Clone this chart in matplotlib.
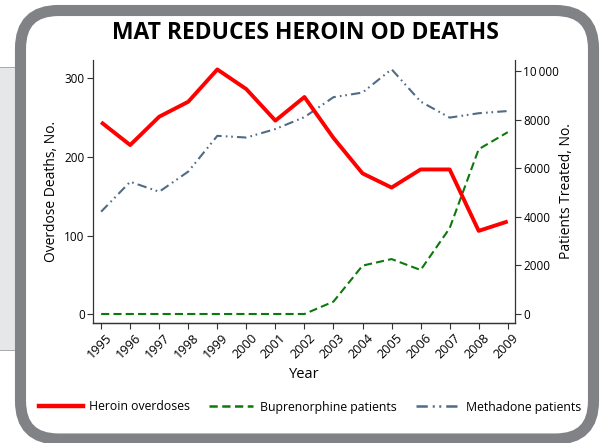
import matplotlib
matplotlib.use("Agg")
import matplotlib.pyplot as plt
from matplotlib.patches import FancyBboxPatch, Rectangle
from matplotlib.lines import Line2D
from matplotlib.ticker import FuncFormatter
from matplotlib.transforms import ScaledTranslation

plt.rcParams['font.family'] = ['Open Sans', 'DejaVu Sans']

# data
years = list(range(1995, 2010))
heroin_od = [244, 215, 251, 270, 311, 286, 246, 276, 224, 179, 161, 184, 184, 106, 118]
bupe_pts = [0, 0, 0, 0, 0, 0, 0, 0, 510, 1990, 2260, 1810, 3530, 6780, 7480]
methadone_pts = [4210, 5440, 5030, 5860, 7330, 7260, 7610, 8100, 8920, 9110,
                 10070, 8740, 8080, 8260, 8350]

left_ticks = [0, 100, 200, 300]
right_ticks = [0, 2000, 4000, 6000, 8000, 10000]

W, H = 602, 443
fig = plt.figure(figsize=(W / 100, H / 100), dpi=100)

# light gray panel sticking out on the left
fig.patches.append(Rectangle((0, H - 350), 22, 282, transform=None,
                             facecolor='#e6e7e8', edgecolor='none', zorder=-3))
fig.lines.append(Line2D([0, 22], [H - 68, H - 68], transform=None,
                        color='#9a9b9d', lw=1.2, zorder=-3))
fig.lines.append(Line2D([0, 22], [H - 350, H - 350], transform=None,
                        color='#9a9b9d', lw=1.2, zorder=-3))

# rounded gray frame
fig.patches.append(FancyBboxPatch((20.5, H - 439), 573, 428.5, transform=None,
                                  boxstyle='round,pad=0,rounding_size=38',
                                  facecolor='white', edgecolor='#808285',
                                  lw=8, zorder=-2))

ax = fig.add_axes([93 / W, 1 - 323 / H, 422 / W, 263 / H])
ax2 = ax.twinx()
ax.set_zorder(ax2.get_zorder() + 1)
ax.patch.set_visible(False)
ax2.patch.set_visible(False)

meth_dash = (4.5, 2, 0.8, 1.8, 0.8, 2)
ax.plot(years, heroin_od, color='#ff0000', lw=2.8, solid_capstyle='butt')
ax2.plot(years, bupe_pts, color='#0a7a0a', lw=1.5, dashes=(3.9, 2.0))
ax2.plot(years, methadone_pts, color='#4f6b86', lw=1.5, dashes=meth_dash)

ax.set_xlim(1994.72, 2009.25)
ax.set_ylim(-11, 323)
ax2.set_ylim(-370, 10450)
ax.set_yticks(left_ticks)
ax2.set_yticks(right_ticks)
ax.set_xticks(years)
ax.set_xticklabels([str(y) for y in years], rotation=45, ha='right',
                   rotation_mode='anchor')
ax2.yaxis.set_major_formatter(
    FuncFormatter(lambda v, p: '10\u2009000' if v >= 10000 else '%d' % v))

for a in (ax, ax2):
    a.spines['top'].set_visible(False)
    for s in a.spines.values():
        s.set_color('#333333')
        s.set_linewidth(0.9)
    a.tick_params(direction='out', length=4, width=0.8, color='#333333',
                  labelsize=8.5, pad=2)
ax2.spines['left'].set_visible(False)
ax.spines['right'].set_visible(False)
ax.tick_params(axis='x', labelsize=9.2, pad=2)
shift = ScaledTranslation(4 / 100, 0, fig.dpi_scale_trans)
for lbl in ax.get_xticklabels():
    lbl.set_transform(lbl.get_transform() + shift)

ax.set_ylabel('Overdose Deaths, No.', fontsize=10, labelpad=4)
ax2.set_ylabel('Patients Treated, No.', fontsize=10, labelpad=0)
ax.set_xlabel('Year', fontsize=10.5, labelpad=4)

fig.text(305 / W, 1 - 33 / H, 'MAT REDUCES HEROIN OD DEATHS', ha='center',
         va='center', fontsize=16.5, fontweight='bold')

handles = [
    Line2D([], [], color='#ff0000', lw=3.2),
    Line2D([], [], color='#0a7a0a', lw=1.8, dashes=(3.3, 1.8)),
    Line2D([], [], color='#4f6b86', lw=1.8, dashes=meth_dash),
]
fig.legend(handles, ['Heroin overdoses', 'Buprenorphine patients', 'Methadone patients'],
           loc='center', bbox_to_anchor=(310 / W, 1 - 407 / H), ncol=3,
           frameon=False, fontsize=8.8, handlelength=3.6, handletextpad=0.5,
           columnspacing=1.6)

fig.savefig('out.png', dpi=100)
